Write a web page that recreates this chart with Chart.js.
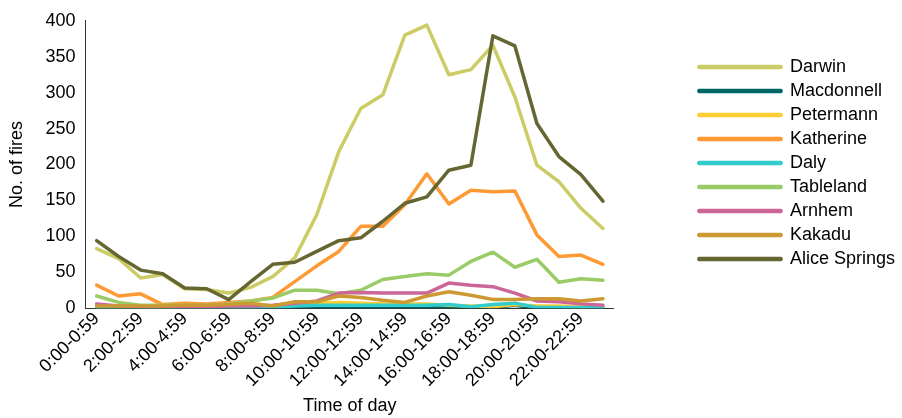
<!DOCTYPE html>
<html>
<head>
<meta charset="utf-8">
<script src="https://cdn.jsdelivr.net/npm/chart.js@4.4.1/dist/chart.umd.min.js"></script>
<style>
  html, body { margin: 0; padding: 0; background: #fff; }
  #wrap { width: 902px; height: 418px; position: relative; }
</style>
</head>
<body>
<div id="wrap"><canvas id="c" width="902" height="418"></canvas></div>
<script>
const categories = ["0:00-0:59","1:00-1:59","2:00-2:59","3:00-3:59","4:00-4:59","5:00-5:59",
  "6:00-6:59","7:00-7:59","8:00-8:59","9:00-9:59","10:00-10:59","11:00-11:59",
  "12:00-12:59","13:00-13:59","14:00-14:59","15:00-15:59","16:00-16:59","17:00-17:59",
  "18:00-18:59","19:00-19:59","20:00-20:59","21:00-21:59","22:00-22:59","23:00-23:59"];

const darwin       = [83, 69, 42, 47, 27, 26, 21, 29, 44, 70, 130, 218, 278, 297, 380, 394, 325, 332, 366, 294, 199, 176, 139, 111];
const macdonnell   = [0, 0, 0, 0, 0, 0, 0, 0, 0, 0, 1, 1, 1, 1, 0, 1, 1, 0, 1, 4, 0, 0, 0, 0];
const petermann    = [2, 2, 2, 2, 2, 2, 2, 2, 3, 4, 7, 8, 7, 6, 6, 6, 4, 3, 2, 5, 3, 3, 2, 3];
const katherine    = [32, 17, 20, 5, 7, 6, 8, 10, 15, 37, 59, 79, 114, 114, 144, 187, 145, 164, 162, 163, 102, 72, 74, 61];
const daly         = [0, 0, 0, 0, 0, 0, 0, 1, 1, 3, 4, 4, 4, 4, 4, 4, 5, 2, 5, 7, 1, 1, 1, 1];
const tableland    = [17, 8, 4, 4, 4, 4, 6, 10, 14, 25, 25, 20, 25, 40, 44, 48, 46, 65, 78, 57, 68, 36, 41, 39];
const arnhem       = [6, 3, 2, 2, 2, 2, 3, 3, 4, 7, 10, 21, 22, 21, 21, 21, 35, 32, 30, 21, 10, 9, 6, 4];
const kakadu       = [3, 3, 3, 3, 4, 4, 5, 7, 3, 9, 9, 17, 15, 11, 8, 17, 23, 18, 12, 12, 13, 13, 10, 13];
const aliceSprings = [94, 72, 53, 48, 28, 27, 12, 37, 61, 64, 79, 94, 98, 121, 146, 155, 192, 199, 379, 365, 257, 211, 186, 149];

const seriesNames  = ["Darwin","Macdonnell","Petermann","Katherine","Daly","Tableland","Arnhem","Kakadu","Alice Springs"];
const seriesValues = [darwin, macdonnell, petermann, katherine, daly, tableland, arnhem, kakadu, aliceSprings];
const seriesColors = ["#cccc66","#006666","#ffcc33","#ff9933","#33cccc","#99cc66","#cc6699","#cc9933","#666633"];

const yTicks = { min: 0, max: 400, step: 50 };

const LEGEND_FIT_GAP = 76;
const LEGEND_DRAW_DX = 79;
const LEGEND_DRAW_DY = 42;

const legendShift = {
  id: 'legendShift',
  beforeLayout(chart) {
    const lg = chart.legend;
    if (lg && !lg._shiftWrapped) {
      const origFit = lg.fit;
      lg.fit = function() { origFit.call(this); this.width += LEGEND_FIT_GAP; };
      const origDraw = lg._draw;
      lg._draw = function() {
        this.left += LEGEND_DRAW_DX; this.top += LEGEND_DRAW_DY;
        origDraw.call(this);
        this.left -= LEGEND_DRAW_DX; this.top -= LEGEND_DRAW_DY;
      };
      lg._shiftWrapped = true;
    }
  }
};

const n = seriesNames.length;
const datasets = seriesNames.map((name, i) => ({
  label: name,
  data: seriesValues[i],
  borderColor: seriesColors[i],
  backgroundColor: seriesColors[i],
  borderWidth: 3.5,
  pointRadius: 0,
  pointHoverRadius: 0,
  tension: 0,
  fill: false,
  borderCapStyle: 'round',
  borderJoinStyle: 'round',
  order: n - 1 - i
}));

const FONT = "'Liberation Sans', Arial, sans-serif";
const FS = 18;
Chart.defaults.font.family = FONT;
Chart.defaults.font.size = FS;
Chart.defaults.color = '#000';

new Chart(document.getElementById('c'), {
  type: 'line',
  data: { labels: categories, datasets },
  plugins: [legendShift],
  options: {
    responsive: false,
    animation: false,
    devicePixelRatio: 1,
    layout: { padding: { left: 3, top: 10, right: 0, bottom: 0 } },
    plugins: {
      legend: {
        position: 'right',
        align: 'start',
        labels: {
          boxWidth: 82,
          boxHeight: 1,
          padding: 6,
          color: '#000',
          font: { size: FS, family: FONT },
          sort: (a, b) => a.datasetIndex - b.datasetIndex
        }
      },
      tooltip: { enabled: false }
    },
    scales: {
      x: {
        offset: true,
        grid: { display: false, drawTicks: false },
        border: { display: true, color: '#333', width: 1 },
        ticks: {
          autoSkip: false,
          minRotation: 45,
          maxRotation: 45,
          padding: 0,
          color: '#000',
          font: { size: FS, family: FONT },
          callback: function(value, index) { return index % 2 === 0 ? this.getLabelForValue(value) : ''; }
        },
        title: {
          display: true,
          text: 'Time of day',
          color: '#000',
          font: { size: FS, family: FONT },
          padding: { top: 4, bottom: 1 }
        }
      },
      y: {
        min: yTicks.min,
        max: yTicks.max,
        grid: { display: false, drawTicks: false },
        border: { display: true, color: '#333', width: 1 },
        ticks: {
          stepSize: yTicks.step,
          padding: 10,
          color: '#000',
          font: { size: FS, family: FONT }
        },
        title: {
          display: true,
          text: 'No. of fires',
          color: '#000',
          font: { size: FS, family: FONT },
          padding: { top: 3, bottom: 8 }
        }
      }
    }
  }
});
</script>
</body>
</html>
